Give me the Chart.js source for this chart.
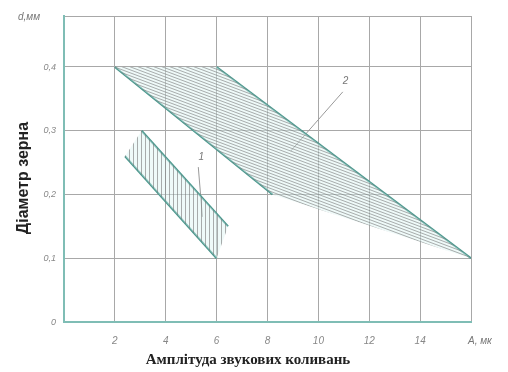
<!DOCTYPE html>
<html>
<head>
<meta charset="utf-8">
<script src="https://cdn.jsdelivr.net/npm/chart.js@4/dist/chart.umd.min.js"></script>
<style>
  html, body { margin: 0; padding: 0; background: #fff; }
  #wrap { width: 508px; height: 372px; }
</style>
</head>
<body>
<div id="wrap"><canvas id="chart" width="508" height="372"></canvas></div>
<script>
// zone 2 (hatched band), polygon corners
const zone2X = [2, 6, 16, 8.2, 2];
const zone2Y = [0.4, 0.4, 0.1, 0.2, 0.4];
// zone 1 (vertical hatch)
const zone1X = [2.4, 3.05, 6.45, 6.0, 2.4];
const zone1Y = [0.26, 0.3, 0.15, 0.1, 0.26];
// leader lines for labels 1 and 2
const lead1X = [5.28, 5.44];
const lead1Y = [0.243, 0.165];
const lead2X = [10.96, 8.91];
const lead2Y = [0.361, 0.268];
const labelText = ['1', '2'];
const labelX = [5.4, 11.07];
const labelY = [0.258, 0.378];
const xTicks = [0, 2, 4, 6, 8, 10, 12, 14, 16];
const yTicks = [0, 0.1, 0.2, 0.3, 0.4, 0.48];
const yTickText = ['0', '0,1', '0,2', '0,3', '0,4', ''];

const pts = (xs, ys) => xs.map((x, i) => ({ x: x, y: ys[i] }));
const seg = (xs, ys, a, b) => [{ x: xs[a], y: ys[a] }, { x: xs[b], y: ys[b] }];

function hatch(w, h, draw) {
    const c = document.createElement('canvas');
    c.width = w; c.height = h;
    const g = c.getContext('2d');
    g.fillStyle = 'rgba(220,243,241,0.45)';
    g.fillRect(0, 0, w, h);
    g.strokeStyle = 'rgba(110,110,110,0.8)';
    g.lineWidth = 0.7;
    draw(g);
    return g.createPattern(c, 'repeat');
}
const ctx = document.getElementById('chart').getContext('2d');
const diagPattern = hatch(8, 3, g => {
    for (let k = -1; k <= 1; k++) {
        g.beginPath(); g.moveTo(0, k * 3); g.lineTo(8, k * 3 + 3); g.stroke();
    }
});
const vertPattern = hatch(4, 4, g => {
    g.beginPath(); g.moveTo(1.5, 0); g.lineTo(1.5, 4); g.stroke();
});

const teal = '#4a968c';

const textPlugin = {
    id: 'texts',
    afterDatasetsDraw(chart) {
        const c = chart.ctx, xs = chart.scales.x, ys = chart.scales.y;
        c.save();
        c.fillStyle = '#777';
        c.font = 'italic 10px "Liberation Sans"';
        c.textAlign = 'center';
        c.textBaseline = 'middle';
        labelText.forEach((t, i) => {
            c.fillText(t, xs.getPixelForValue(labelX[i]), ys.getPixelForValue(labelY[i]));
        });
        c.textAlign = 'left';
        c.fillText('d,мм', 18, 17);
        c.fillText('A, мк', 468, 341);
        c.fillStyle = '#222';
        c.font = 'bold 15px "Liberation Serif"';
        c.textAlign = 'center';
        c.fillText('Амплітуда звукових коливань', 248, 360);
        c.font = 'bold 16px "Liberation Sans Narrow", "Liberation Sans"';
        c.translate(24, 178);
        c.rotate(-Math.PI / 2);
        c.fillText('Діаметр зерна', 0, 0);
        c.restore();
    }
};

const lineDs = (data, color, width) => ({
    data: data, showLine: true, fill: false, borderColor: color,
    borderWidth: width, pointRadius: 0, tension: 0
});

new Chart(ctx, {
    type: 'scatter',
    data: {
        datasets: [
            {
                data: pts(zone2X, zone2Y), showLine: true, fill: 'shape',
                backgroundColor: diagPattern, borderWidth: 0, pointRadius: 0
            },
            {
                data: pts(zone1X, zone1Y), showLine: true, fill: 'shape',
                backgroundColor: vertPattern, borderWidth: 0, pointRadius: 0
            },
            lineDs(seg(zone2X, zone2Y, 1, 2), teal, 2),
            lineDs(seg(zone2X, zone2Y, 0, 3), teal, 2),
            lineDs(seg(zone1X, zone1Y, 1, 2), teal, 2),
            lineDs(seg(zone1X, zone1Y, 0, 3), teal, 2),
            lineDs(pts(lead1X, lead1Y), '#999', 1),
            lineDs(pts(lead2X, lead2Y), '#999', 1)
        ]
    },
    options: {
        responsive: false,
        animation: false,
        layout: { padding: { top: 16, right: 37, left: 0, bottom: 0 } },
        plugins: { legend: { display: false }, tooltip: { enabled: false } },
        scales: {
            x: {
                type: 'linear', min: 0, max: 16,
                afterBuildTicks: s => { s.ticks = xTicks.map(v => ({ value: v })); },
                afterFit: s => { s.height = 50; },
                grid: { color: '#a8a8a8', lineWidth: 1, drawTicks: false },
                border: { color: '#7fbdb5', width: 2 },
                ticks: {
                    padding: 13, color: '#888',
                    font: { family: 'Liberation Sans', style: 'italic', size: 10 },
                    callback: v => (v === 0 || v === 16) ? '' : String(v)
                }
            },
            y: {
                type: 'linear', min: 0, max: 0.48,
                afterBuildTicks: s => { s.ticks = yTicks.map(v => ({ value: v })); },
                afterFit: s => { s.width = 64; },
                grid: { color: '#a8a8a8', lineWidth: 1, drawTicks: false },
                border: { color: '#7fbdb5', width: 2 },
                ticks: {
                    padding: 8, color: '#888',
                    font: { family: 'Liberation Sans', style: 'italic', size: 9 },
                    callback: (v, i) => yTickText[i]
                }
            }
        }
    },
    plugins: [textPlugin]
});
</script>
</body>
</html>
